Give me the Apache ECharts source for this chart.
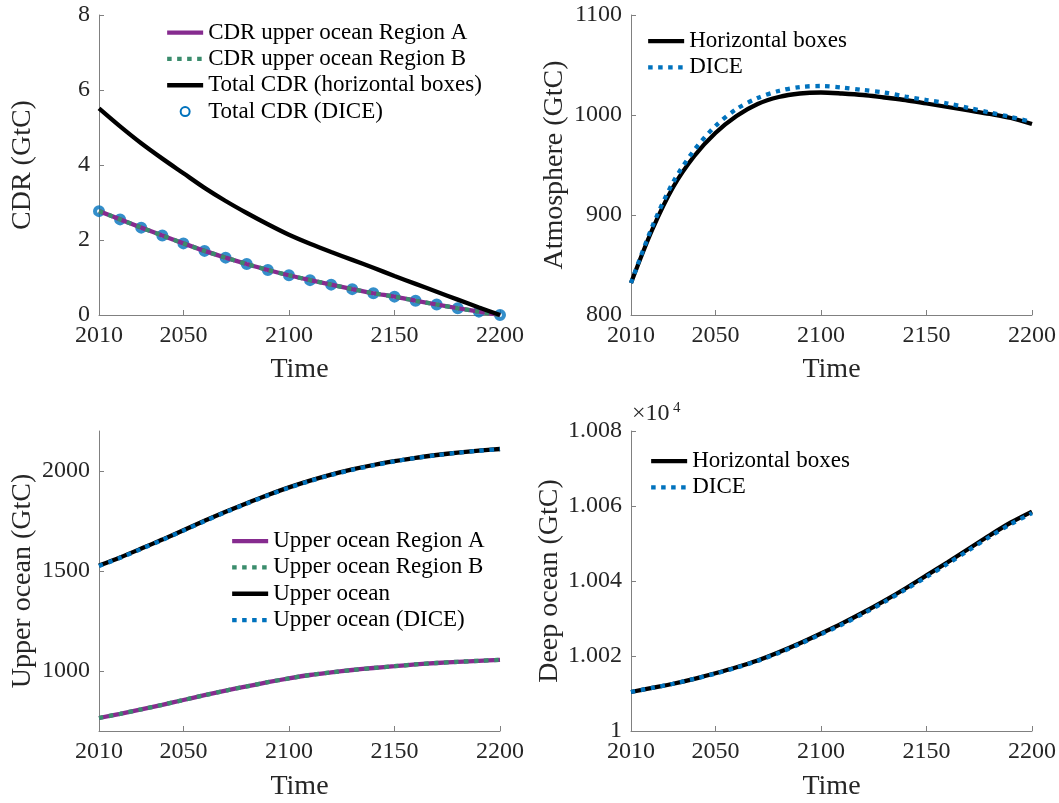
<!DOCTYPE html>
<html>
<head>
<meta charset="utf-8">
<script src="https://cdn.jsdelivr.net/npm/echarts@6/dist/echarts.min.js"></script>
<style>html,body{margin:0;padding:0;background:#fff}#c{width:1059px;height:803px}</style>
</head>
<body>
<div id="c"></div>
<script>
// ---------- data ----------
const years = [2010,2020,2030,2040,2050,2060,2070,2080,2090,2100,2110,2120,2130,2140,2150,2160,2170,2180,2190,2200];
const xTickValues = [2010, 2050, 2100, 2150, 2200];

// Panel 1: CDR (GtC)
const cdrRegionA = [2.77,2.55,2.33,2.12,1.91,1.71,1.53,1.36,1.20,1.06,0.93,0.81,0.69,0.58,0.49,0.38,0.28,0.18,0.09,0.00];
const cdrRegionB = [2.77,2.55,2.33,2.12,1.91,1.71,1.53,1.36,1.20,1.06,0.93,0.81,0.69,0.58,0.49,0.38,0.28,0.18,0.09,0.00];
const cdrTotalBoxes = [5.51,5.03,4.58,4.17,3.78,3.39,3.04,2.72,2.42,2.14,1.90,1.68,1.47,1.26,1.04,0.83,0.62,0.41,0.20,0.00];
const cdrTotalDICE = [2.77,2.55,2.33,2.12,1.91,1.71,1.53,1.36,1.20,1.06,0.93,0.81,0.69,0.58,0.49,0.38,0.28,0.18,0.09,0.00];

// Panel 2: Atmosphere (GtC)
const atmBoxes = [832,885,928,959,982,999,1011,1018,1021.5,1022.5,1021.5,1020,1017.5,1015,1011.5,1008,1004.5,1001,997,991];
const atmDICE  = [832,888,933,965,989,1006,1017,1024,1028,1029,1027.5,1025,1022.5,1018.5,1015,1011.5,1007,1002.5,998,993];

// Panel 3: Upper ocean (GtC)
const upRegionA = [765,786,808,831,855,879,902,923,944,963,980,993,1005,1015,1024,1033,1040,1046,1051,1056];
const upRegionB = [765,786,808,831,855,879,902,923,944,963,980,993,1005,1015,1024,1033,1040,1046,1051,1056];
const upTotal   = [1527,1568,1612,1657,1704,1751,1796,1839,1880,1918,1952,1982,2008,2030,2049,2066,2080,2092,2102,2110];
const upDICE    = [1525,1566,1610,1655,1702,1749,1794,1837,1878,1916,1950,1980,2006,2028,2048,2065,2079,2091,2101,2109];
const upYTicks  = [1000, 1500, 2000];

// Panel 4: Deep ocean (GtC)
const deepBoxes = [10010.4,10011.5,10012.6,10013.9,10015.4,10017.0,10018.8,10021.0,10023.4,10026.0,10028.7,10031.6,10034.7,10038.0,10041.5,10045.0,10048.6,10052.2,10055.6,10058.5];
const deepDICE  = [10010.4,10011.5,10012.6,10013.9,10015.3,10016.9,10018.7,10020.8,10023.2,10025.8,10028.4,10031.3,10034.4,10037.7,10041.1,10044.6,10048.2,10051.8,10055.2,10058.1];

// ---------- styling ----------
const FONT = 'Liberation Serif';
const TXT = '#262626';
const AX = '#808080';
const PURPLE = '#862B8F';
const GREEN = '#3A8C6C';
const BLUE = '#0072BD';
const BLACK = '#000000';
const LW = 4.3;
const DOT = [4.5, 5.5];
const TICK_FS = 24, NAME_FS = 28, LEG_FS = 23;

const pair = (vals) => years.map((y, i) => [y, vals[i]]);
const plain = (v) => String(v);

const grids = [
  {left: 99,  top: 15,  width: 401, height: 300},
  {left: 631, top: 15,  width: 401, height: 300},
  {left: 99,  top: 431, width: 401, height: 300},
  {left: 631, top: 431, width: 401, height: 300}
];

function xAxis(gi, gap) {
  return {
    type: 'value', gridIndex: gi, min: 2010, max: 2200,
    name: 'Time', nameLocation: 'middle', nameGap: gap,
    nameTextStyle: {fontFamily: FONT, fontSize: NAME_FS, color: TXT},
    axisLine: {show: true, lineStyle: {color: AX, width: 1}},
    axisTick: {show: true, inside: true, length: 5, customValues: xTickValues, lineStyle: {color: AX}},
    axisLabel: {customValues: xTickValues, formatter: plain, margin: 9, fontFamily: FONT, fontSize: TICK_FS, color: TXT},
    splitLine: {show: false}
  };
}
function yAxis(gi, name, extra) {
  return Object.assign({
    type: 'value', gridIndex: gi,
    name: name, nameLocation: 'middle', nameGap: 62, nameRotate: 90,
    nameTextStyle: {fontFamily: FONT, fontSize: NAME_FS, color: TXT},
    axisLine: {show: true, lineStyle: {color: AX, width: 1}},
    axisTick: {show: true, inside: true, length: 5, lineStyle: {color: AX}},
    axisLabel: {margin: 9, formatter: plain, fontFamily: FONT, fontSize: TICK_FS, color: TXT},
    splitLine: {show: false}
  }, extra);
}
function mergeDeep(a, b) {
  const o = Object.assign({}, a);
  for (const k in b) {
    if (b[k] && typeof b[k] === 'object' && !Array.isArray(b[k]) && a[k] && typeof a[k] === 'object') o[k] = mergeDeep(a[k], b[k]);
    else o[k] = b[k];
  }
  return o;
}

function line(name, gi, vals, color, dotted) {
  return {
    type: 'line', name: name, xAxisIndex: gi, yAxisIndex: gi,
    data: pair(vals), symbol: 'none', smooth: 0.3,
    lineStyle: {color: color, width: LW, type: dotted ? DOT : 'solid', cap: 'butt'},
    itemStyle: {color: color},
    emphasis: {disabled: true}
  };
}

const legendBase = {
  orient: 'vertical', padding: 0, itemGap: 0, itemWidth: 36, itemHeight: 9,
  textStyle: {fontFamily: FONT, fontSize: LEG_FS, color: '#000', lineHeight: 26.3},
  itemStyle: {opacity: 0},
  lineStyle: {width: 'inherit'},
  selectedMode: false
};

const option = {
  animation: false,
  backgroundColor: '#fff',
  grid: grids,
  xAxis: [xAxis(0, 41), xAxis(1, 41), xAxis(2, 42), xAxis(3, 42)],
  yAxis: [
    yAxis(0, 'CDR (GtC)', {min: 0, max: 8, interval: 2}),
    yAxis(1, 'Atmosphere (GtC)', {min: 800, max: 1100, interval: 100}),
    mergeDeep(yAxis(2, 'Upper ocean (GtC)', {min: 700, max: 2200}),
      {axisTick: {customValues: upYTicks}, axisLabel: {customValues: upYTicks}}),
    mergeDeep(yAxis(3, 'Deep ocean (GtC)', {min: 10000, max: 10080, interval: 20}),
      {axisLabel: {formatter: (v) => String(Number((v / 10000).toFixed(3)))}})
  ],
  legend: [
    Object.assign({}, legendBase, {left: 165, top: 19.5,
      data: ['CDR upper ocean Region A', 'CDR upper ocean Region B', 'Total CDR (horizontal boxes)',
             {name: 'Total CDR (DICE)', itemStyle: {opacity: 1}}]}),
    Object.assign({}, legendBase, {left: 646, top: 28,
      data: ['Horizontal boxes', 'DICE']}),
    Object.assign({}, legendBase, {left: 230, top: 528,
      data: ['Upper ocean Region A', 'Upper ocean Region B', 'Upper ocean', 'Upper ocean (DICE)']}),
    Object.assign({}, legendBase, {left: 649, top: 448,
      data: ['Horizontal boxes', 'DICE']})
  ],
  graphic: [
    {type: 'text', left: 632, top: 402, style: {text: '×10', fontFamily: FONT, fontSize: 24, fill: TXT}},
    {type: 'text', left: 673, top: 401, style: {text: '4', fontFamily: FONT, fontSize: 15, fill: TXT}}
  ],
  series: [
    line('CDR upper ocean Region A', 0, cdrRegionA, PURPLE, false),
    line('CDR upper ocean Region B', 0, cdrRegionB, GREEN, true),
    line('Total CDR (horizontal boxes)', 0, cdrTotalBoxes, BLACK, false),
    {
      type: 'scatter', name: 'Total CDR (DICE)', xAxisIndex: 0, yAxisIndex: 0,
      data: pair(cdrTotalDICE), symbol: 'circle', symbolSize: 8,
      itemStyle: {color: 'rgba(255,255,255,0)', borderColor: BLUE, borderWidth: 4},
      emphasis: {disabled: true}, clip: false
    },
    line('Horizontal boxes', 1, atmBoxes, BLACK, false),
    line('DICE', 1, atmDICE, BLUE, true),
    line('Upper ocean Region A', 2, upRegionA, PURPLE, false),
    line('Upper ocean Region B', 2, upRegionB, GREEN, true),
    line('Upper ocean', 2, upTotal, BLACK, false),
    line('Upper ocean (DICE)', 2, upDICE, BLUE, true),
    line('Horizontal boxes', 3, deepBoxes, BLACK, false),
    line('DICE', 3, deepDICE, BLUE, true)
  ]
};

const chart = echarts.init(document.getElementById('c'), null, {renderer: 'canvas'});
chart.setOption(option);
</script>
</body>
</html>
